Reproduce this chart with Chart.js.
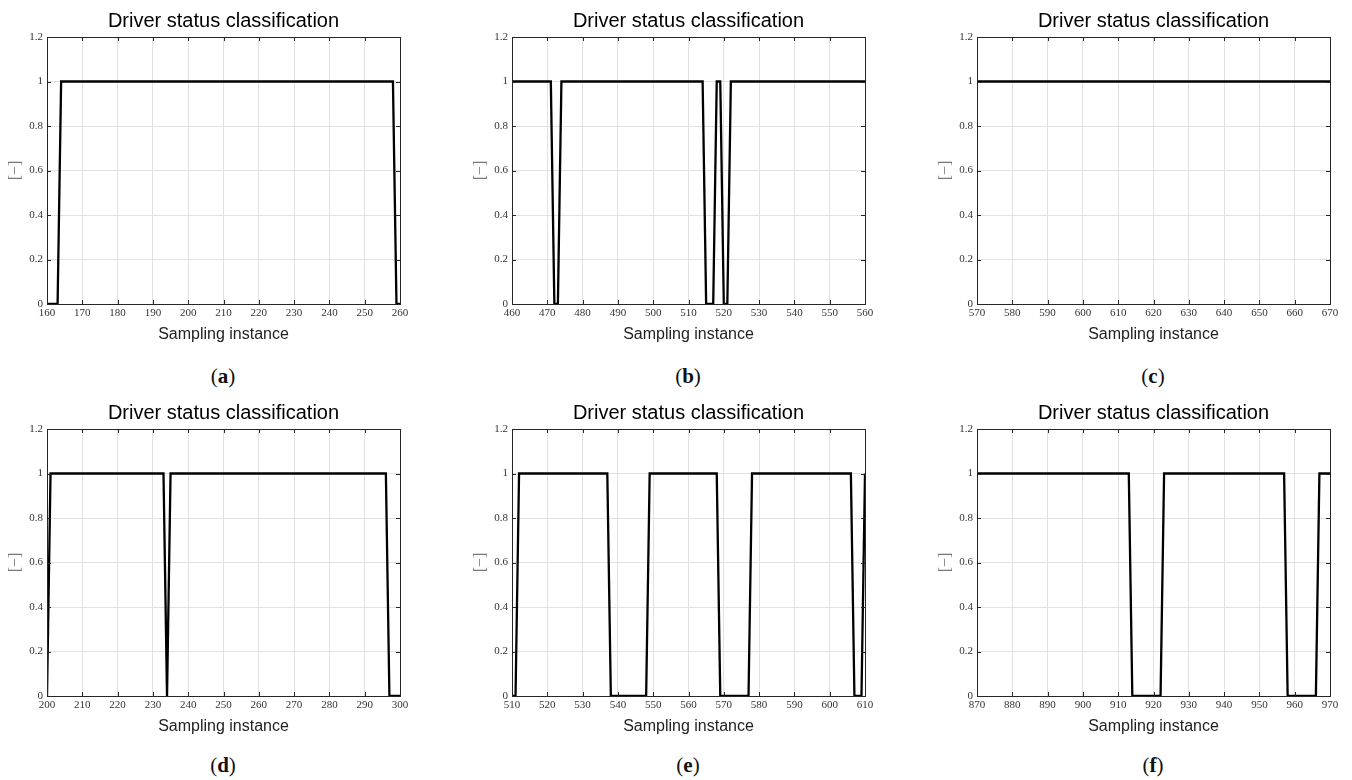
<!DOCTYPE html>
<html>
<head>
<meta charset="utf-8">
<script src="https://cdn.jsdelivr.net/npm/chart.js@4/dist/chart.umd.min.js"></script>
<style>
  body { margin: 0; background: #fff; width: 1352px; height: 780px; position: relative; overflow: hidden; }
  .panel { position: absolute; width: 418px; height: 350px; }
  .cap { position: absolute; width: 200px; text-align: center; font-family: 'Liberation Serif', serif; font-size: 21px; color: #111; }
</style>
</head>
<body>
<div class="panel" style="left:0px;top:0px"><canvas id="chartA"></canvas></div>
<div class="panel" style="left:465px;top:0px"><canvas id="chartB"></canvas></div>
<div class="panel" style="left:930px;top:0px"><canvas id="chartC"></canvas></div>
<div class="panel" style="left:0px;top:392px"><canvas id="chartD"></canvas></div>
<div class="panel" style="left:465px;top:392px"><canvas id="chartE"></canvas></div>
<div class="panel" style="left:930px;top:392px"><canvas id="chartF"></canvas></div>
<div class="cap" style="left:123px;top:364px">(<b>a</b>)</div>
<div class="cap" style="left:588px;top:364px">(<b>b</b>)</div>
<div class="cap" style="left:1053px;top:364px">(<b>c</b>)</div>
<div class="cap" style="left:123px;top:753px">(<b>d</b>)</div>
<div class="cap" style="left:588px;top:753px">(<b>e</b>)</div>
<div class="cap" style="left:1053px;top:753px">(<b>f</b>)</div>
<script>
// sampling instances where the status changes (vertices of the step line)
const aX = [160, 163, 164, 258, 259, 260];
const aY = [0, 0, 1, 1, 0, 0];
const bX = [460, 471, 472, 473, 474, 514, 515, 517, 518, 519, 520, 521, 522, 560];
const bY = [1, 1, 0, 0, 1, 1, 0, 0, 1, 1, 0, 0, 1, 1];
const cX = [570, 670];
const cY = [1, 1];
const dX = [200, 201, 233, 234, 235, 296, 297, 300];
const dY = [0, 1, 1, 0, 1, 1, 0, 0];
const eX = [510, 511, 512, 537, 538, 548, 549, 568, 569, 577, 578, 606, 607, 609, 610];
const eY = [0, 0, 1, 1, 0, 0, 1, 1, 0, 0, 1, 1, 0, 0, 1];
const fX = [870, 913, 914, 922, 923, 957, 958, 966, 967, 970];
const fY = [1, 1, 0, 0, 1, 1, 0, 0, 1, 1];

// x axis range of each panel
const xMins = [160, 460, 570, 200, 510, 870];
const xMaxs = [260, 560, 670, 300, 610, 970];
const yTicksMax = 1.2;

const titleText = 'Driver status classification';
const xLabel = 'Sampling instance';
const yLabel = '[\u2212]';

// box round the plot + inward tick marks, matlab style
const boxPlugin = {
    id: 'box',
    afterDraw(chart) {
        const c = chart.ctx;
        const a = chart.chartArea;
        const xs = chart.scales.x, ys = chart.scales.y;
        c.save();
        c.strokeStyle = '#262626';
        c.lineWidth = 1;
        c.beginPath();
        xs.ticks.forEach(t => {
            const px = Math.round(xs.getPixelForValue(t.value)) + 0.5;
            c.moveTo(px, a.bottom); c.lineTo(px, a.bottom - 4);
            c.moveTo(px, a.top); c.lineTo(px, a.top + 4);
        });
        ys.ticks.forEach(t => {
            const py = Math.round(ys.getPixelForValue(t.value)) + 0.5;
            c.moveTo(a.left, py); c.lineTo(a.left + 4, py);
            c.moveTo(a.right, py); c.lineTo(a.right - 4, py);
        });
        c.stroke();
        c.strokeRect(Math.round(a.left) + 0.5, Math.round(a.top) + 0.5, Math.round(a.right - a.left), Math.round(a.bottom - a.top));
        c.restore();
    }
};

function makeChart(id, xs, ys, xMin, xMax) {
    const pts = xs.map((x, i) => ({ x: x, y: ys[i] }));
    return new Chart(document.getElementById(id).getContext('2d'), {
        type: 'line',
        data: {
            datasets: [{
                data: pts,
                borderColor: '#000',
                borderWidth: 2.3,
                pointRadius: 0,
                tension: 0,
                fill: false
            }]
        },
        options: {
            responsive: true,
            maintainAspectRatio: false,
            animation: false,
            layout: { padding: { left: 0, right: 18, top: 0, bottom: 0 } },
            plugins: {
                legend: { display: false },
                tooltip: { enabled: false },
                title: {
                    display: true,
                    text: titleText,
                    fullSize: false,
                    color: '#000',
                    font: { family: "'Liberation Sans', Arial, sans-serif", size: 20, weight: 'normal', lineHeight: 1.2 },
                    padding: { top: 9, bottom: 4 }
                }
            },
            scales: {
                x: {
                    type: 'linear',
                    min: xMin,
                    max: xMax,
                    afterFit: s => { s.height = 46; },
                    ticks: {
                        stepSize: 10,
                        maxRotation: 0,
                        autoSkip: false,
                        padding: 3,
                        color: '#333',
                        font: { family: "'Liberation Serif', serif", size: 11 }
                    },
                    grid: { color: '#e2e2e2', drawTicks: false },
                    border: { display: false },
                    title: {
                        display: true,
                        text: xLabel,
                        color: '#222',
                        padding: { top: 0, bottom: 6 },
                        font: { family: "'Liberation Sans', Arial, sans-serif", size: 16, lineHeight: 1.2 }
                    }
                },
                y: {
                    min: 0,
                    max: yTicksMax,
                    afterFit: s => { s.width = 47; },
                    ticks: {
                        stepSize: 0.2,
                        padding: 4,
                        color: '#333',
                        font: { family: "'Liberation Serif', serif", size: 11 },
                        callback: v => String(Math.round(v * 10) / 10)
                    },
                    grid: { color: '#e2e2e2', drawTicks: false },
                    border: { display: false },
                    title: {
                        display: true,
                        text: yLabel,
                        color: '#777',
                        padding: { top: 6, bottom: 0 },
                        font: { family: "'Liberation Serif', serif", size: 16, lineHeight: 1.2 }
                    }
                }
            }
        },
        plugins: [boxPlugin]
    });
}

makeChart('chartA', aX, aY, xMins[0], xMaxs[0]);
makeChart('chartB', bX, bY, xMins[1], xMaxs[1]);
makeChart('chartC', cX, cY, xMins[2], xMaxs[2]);
makeChart('chartD', dX, dY, xMins[3], xMaxs[3]);
makeChart('chartE', eX, eY, xMins[4], xMaxs[4]);
makeChart('chartF', fX, fY, xMins[5], xMaxs[5]);
</script>
</body>
</html>
